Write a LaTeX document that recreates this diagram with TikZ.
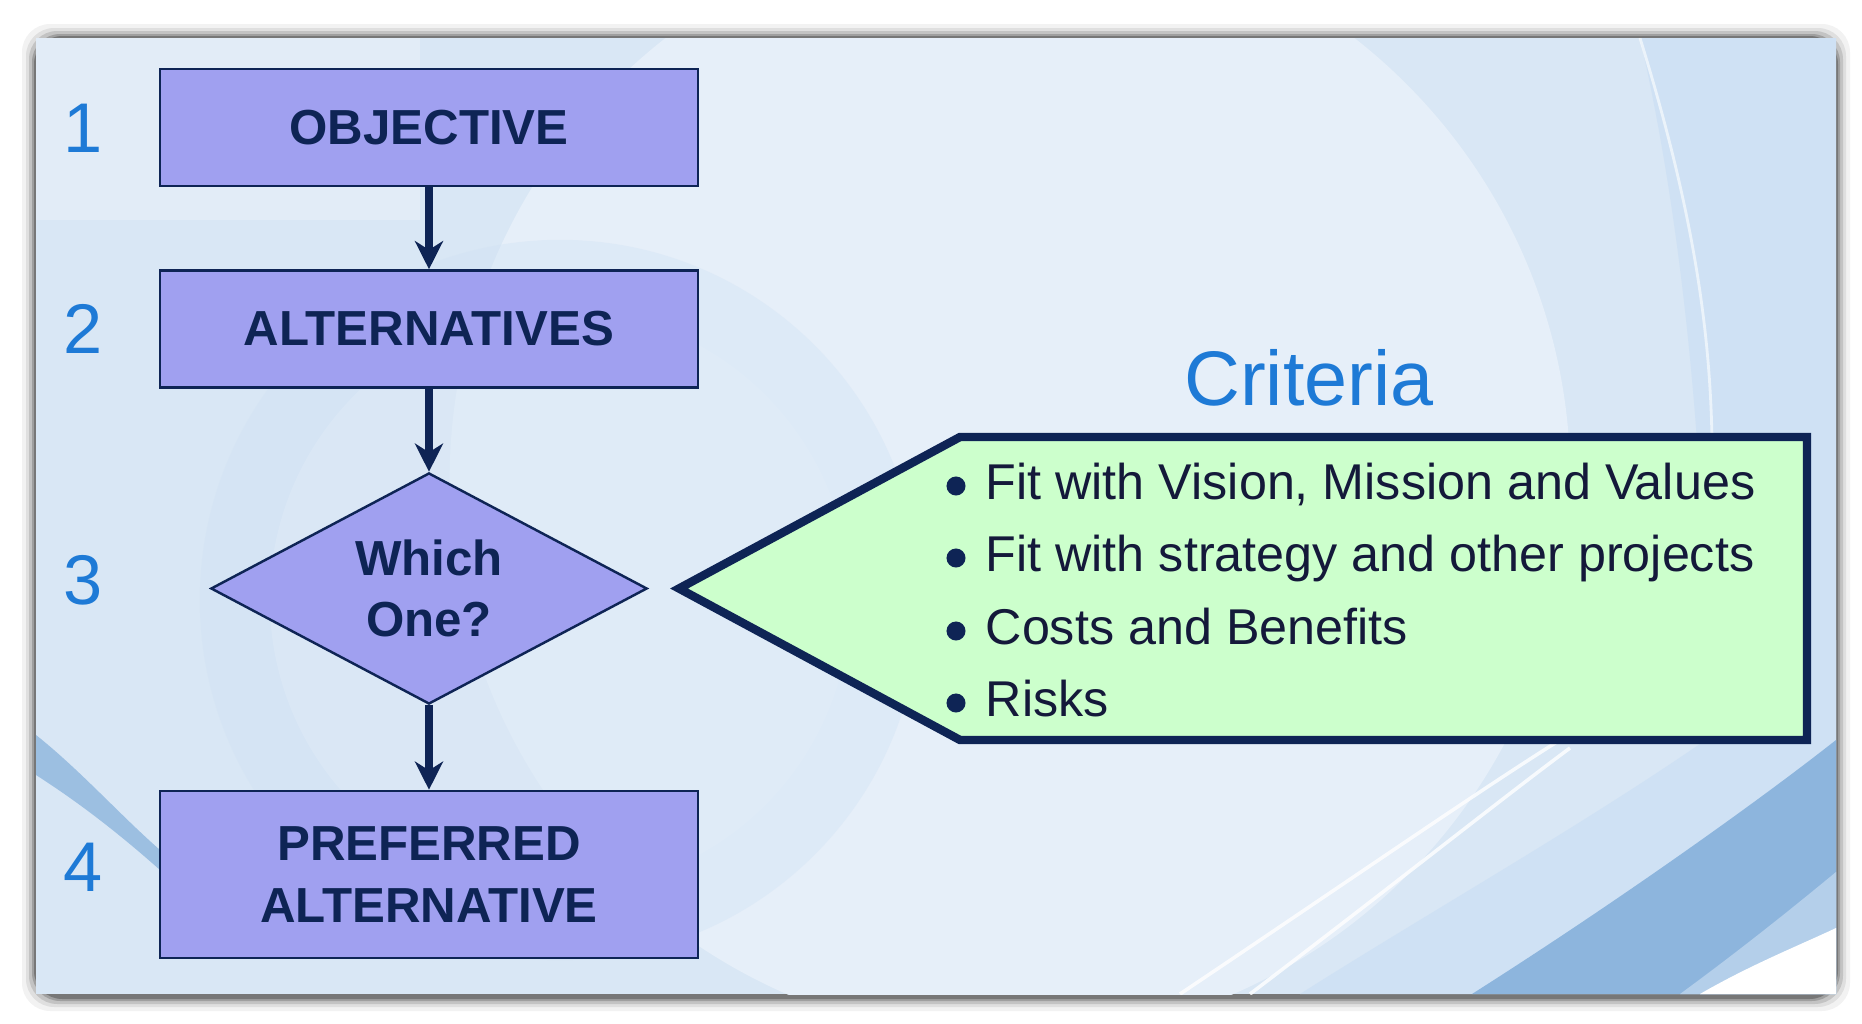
\documentclass[tikz,border=0pt]{standalone}
\usepackage{fontspec}
\setmainfont{Liberation Sans}
\usetikzlibrary{shapes.geometric,arrows.meta}
\definecolor{bgbase}{HTML}{D9E7F5}
\definecolor{bglight}{HTML}{E6EFF9}
\definecolor{bgmid}{HTML}{CFE1F4}
\definecolor{bgdark}{HTML}{8DB5DD}
\definecolor{bgband}{HTML}{B4CFEA}
\definecolor{boxfill}{HTML}{A0A0F0}
\definecolor{navy}{HTML}{0E2455}
\definecolor{numblue}{HTML}{1E7AD6}
\definecolor{critfill}{HTML}{CCFFCC}
\definecolor{textdark}{HTML}{14193A}
\tikzset{
  box/.style={rectangle, draw=navy, line width=0.7pt, fill=boxfill,
    minimum width=5.38cm, minimum height=1.17cm, inner sep=0pt,
    align=center, text=navy, font=\bfseries\fontsize{14}{17.6}\selectfont},
  dia/.style={diamond, draw=navy, line width=0.7pt, fill=boxfill,
    minimum width=4.36cm, minimum height=2.31cm, aspect=1.89, inner sep=0pt,
    align=center, text=navy, font=\bfseries\fontsize{14}{17.3}\selectfont},
  num/.style={text=numblue, font=\fontsize{20}{24}\selectfont, inner sep=0pt},
  item/.style={anchor=base west, inner sep=0pt, text=textdark,
    font=\fontsize{14.3}{17}\selectfont},
  flow/.style={draw=navy, line width=2pt,
    -{Stealth[length=8pt,width=8pt,inset=2.5pt]}},
  callout/.style={draw=navy, fill=critfill, line width=2.4pt, line join=miter}
}
\begin{document}
\begin{tikzpicture}[x=0.01cm,y=-0.01cm]
\useasboundingbox (0,0) rectangle (1862,1024);
\fill[white] (0,0) rectangle (1862,1024);
% drop shadow
\foreach \i/\o in {14/0.05,10/0.08,7/0.12,4/0.18,2/0.25}
  \fill[black, opacity=\o, rounded corners=8] (36-\i,38-\i) rectangle (1836+\i,994+\i+3);
% background
\begin{scope}
\clip (36,38) rectangle (1836,994);
\fill[bgbase] (36,38) rectangle (1836,994);
\fill[bglight] (1010,480) circle[radius=5.6cm];
\fill[bgmid] (1640,38) .. controls (1700,300) and (1720,650) .. (1700,994) -- (1836,994) -- (1836,38) -- cycle;
\fill[bglight, opacity=0.7] (36,38) rectangle (420,220);
\fill[bgmid, opacity=0.35] (560,600) circle[radius=3.6cm];
\fill[bglight, opacity=0.3] (560,600) circle[radius=2.9cm];
\fill[bgmid] (1300,994) .. controls (1480,880) and (1700,760) .. (1836,640) -- (1836,994) -- cycle;
\fill[bgdark] (1472,994) .. controls (1620,900) and (1760,800) .. (1836,740) -- (1836,994) -- cycle;
\fill[bgband] (1680,994) .. controls (1740,950) and (1790,910) .. (1836,872) -- (1836,994) -- cycle;
\fill[white] (1700,994) .. controls (1750,965) and (1800,945) .. (1836,928) -- (1836,994) -- cycle;
\draw[white, opacity=0.8, line width=1pt] (1180,994) .. controls (1350,880) and (1480,790) .. (1560,740);
\draw[white, opacity=0.8, line width=1pt] (1250,994) .. controls (1400,880) and (1500,800) .. (1570,748);
\draw[white, opacity=0.6, line width=0.8pt] (1640,38) .. controls (1690,200) and (1710,320) .. (1712,440);
\fill[bgdark, opacity=0.8] (36,735) .. controls (80,770) and (120,815) .. (160,850) -- (160,870) .. controls (115,830) and (75,800) .. (36,775) -- cycle;
\end{scope}
% flowchart
\node[box] (obj) at (429,127.5) {OBJECTIVE};
\node[box] (alt) at (429,329) {ALTERNATIVES};
\node[dia] (which) at (429,588.5) {Which\\One?};
\node[box, minimum height=1.67cm] (pref) at (429,874.5) {PREFERRED\\ALTERNATIVE};
\draw[flow] (obj) -- (alt);
\draw[flow] (alt) -- (which);
\draw[flow] (which) -- (pref);
% numbers
\node[num] (n1) at (83,128) {1};
\node[num] (n2) at (83,329) {2};
\node[num] (n3) at (83,580) {3};
\node[num] (n4) at (83,867) {4};
% criteria
\node[text=numblue, font=\fontsize{22}{26}\selectfont] (crit) at (1309,378) {Criteria};
\draw[callout] (679,588.5) -- (960,437) -- (1807,437) -- (1807,740) -- (960,740) -- cycle;
\node[item] (b1) at (985,499) {Fit with Vision, Mission and Values};
\node[item] (b2) at (985,571) {Fit with strategy and other projects};
\node[item] (b3) at (985,644) {Costs and Benefits};
\node[item] (b4) at (985,716) {Risks};
\foreach \y in {486,558,631,703}
  \fill[navy] (956,\y) circle[radius=0.095cm];
\end{tikzpicture}
\end{document}
